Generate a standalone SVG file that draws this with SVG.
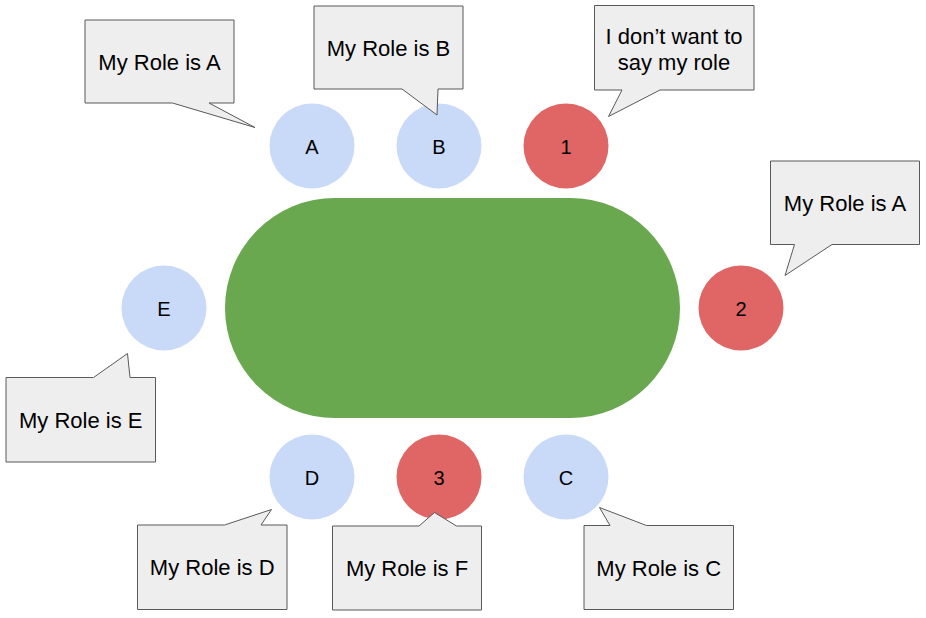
<svg xmlns="http://www.w3.org/2000/svg" width="926" height="618" viewBox="0 0 926 618">
<style>
.bg{fill:#ffffff}
.seat-b{fill:#c9daf8}
.seat-r{fill:#e06666}
.lbl{font-family:"Liberation Sans",Arial,sans-serif;font-size:20px;fill:#000;text-anchor:middle}
.bubble{fill:#eeeeee;stroke:#595959;stroke-width:1}
.btxt{font-family:"Liberation Sans",Arial,sans-serif;font-size:22px;fill:#000;text-anchor:middle}
</style>
<rect class="bg" x="0" y="0" width="926" height="618"/>
<g id="table"><rect x="225" y="198" width="455" height="220" rx="110" ry="110" fill="#6aa84f"/></g>
<g id="seat-A"><circle class="seat-b" cx="312" cy="146" r="42.5"/><text class="lbl" x="312" y="153.5">A</text></g>
<g id="seat-B"><circle class="seat-b" cx="439" cy="146" r="42.5"/><text class="lbl" x="439" y="153.5">B</text></g>
<g id="seat-1"><circle class="seat-r" cx="566" cy="146" r="42.5"/><text class="lbl" x="566" y="153.5">1</text></g>
<g id="seat-E"><circle class="seat-b" cx="164" cy="308" r="42.5"/><text class="lbl" x="164" y="315.5">E</text></g>
<g id="seat-2"><circle class="seat-r" cx="741" cy="308" r="42.5"/><text class="lbl" x="741" y="315.5">2</text></g>
<g id="seat-D"><circle class="seat-b" cx="312" cy="477" r="42.5"/><text class="lbl" x="312" y="484.5">D</text></g>
<g id="seat-3"><circle class="seat-r" cx="439" cy="477" r="42.5"/><text class="lbl" x="439" y="484.5">3</text></g>
<g id="seat-C"><circle class="seat-b" cx="566" cy="477" r="42.5"/><text class="lbl" x="566" y="484.5">C</text></g>
<g id="bubble-A"><path class="bubble" d="M85,20 H234 V103 H209 L255,127.5 L172.5,103 H85 Z"/><text class="btxt" x="159.5" y="70">My Role is A</text></g>
<g id="bubble-B"><path class="bubble" d="M314,6 H463 V89 H438 L437,115 L402,89 H314 Z"/><text class="btxt" x="388.5" y="56">My Role is B</text></g>
<g id="bubble-1"><path class="bubble" d="M594.5,5.5 H754 V90 H660 L608.5,116.5 L622,90 H594.5 Z"/><text class="btxt" x="674" y="43.5">I don’t want to</text><text class="btxt" x="674" y="69.5">say my role</text></g>
<g id="bubble-2"><path class="bubble" d="M770.5,161 H919.5 V244.5 H832 L785,275.5 L794.5,244.5 H770.5 Z"/><text class="btxt" x="845" y="211">My Role is A</text></g>
<g id="bubble-E"><path class="bubble" d="M6,377.5 H93.5 L127.5,353.5 L130,377.5 H155.5 V462 H6 Z"/><text class="btxt" x="80.7" y="427.5">My Role is E</text></g>
<g id="bubble-D"><path class="bubble" d="M137.5,525 H224.5 L271.5,509.5 L261,525 H287 V609.5 H137.5 Z"/><text class="btxt" x="212.2" y="574.5">My Role is D</text></g>
<g id="bubble-F"><path class="bubble" d="M332.5,526 H419 L434.5,512.5 L456.5,526 H481.5 V610 H332.5 Z"/><text class="btxt" x="407" y="576">My Role is F</text></g>
<g id="bubble-C"><path class="bubble" d="M584,525.5 H610 L599.5,507.5 L646.5,525.5 H733.5 V609.5 H584 Z"/><text class="btxt" x="658.7" y="575.5">My Role is C</text></g>
<g id="connectors"></g>
</svg>
